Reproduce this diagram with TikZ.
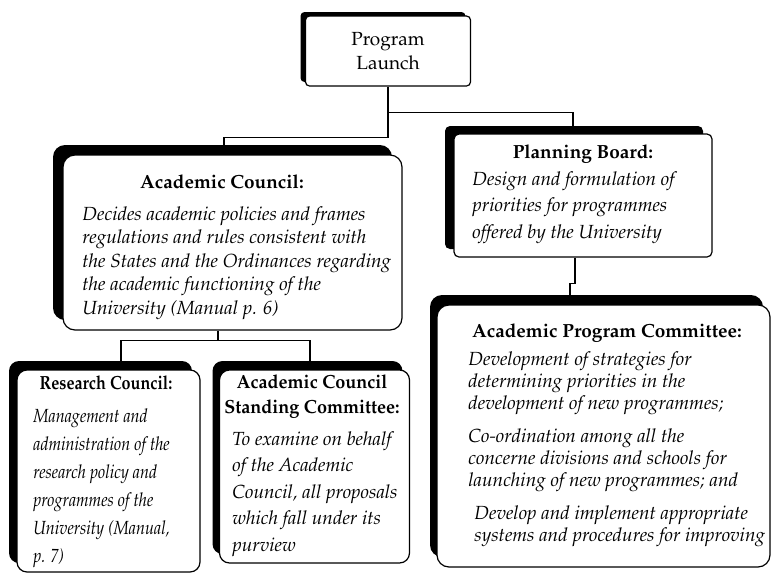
\documentclass[tikz,border=0pt]{standalone}
\usepackage[T1]{fontenc}
\usepackage{mathpazo}
\usepackage{graphicx}
\usetikzlibrary{shadows}

\tikzset{
  box/.style={draw, fill=white, line width=0.6pt, inner sep=0pt},
  ttl/.style={anchor=base, inner sep=0pt, align=center, font=\fontsize{9.5}{12.5}\selectfont\bfseries},
  body/.style={anchor=north west, inner sep=0pt, align=left, font=\fontsize{9.5}{#1}\selectfont\itshape},
  conn/.style={line width=0.6pt}
}

\begin{document}
\begin{tikzpicture}[x=0.5pt, y=-0.5pt]
\useasboundingbox (0,0) rectangle (771,574);
% boxes
\node[box, rounded corners=2pt, minimum width=82.5pt, minimum height=35pt, align=center, font=\fontsize{9.5}{12}\selectfont,
  general shadow={fill=black, shadow xshift=-2.5pt, shadow yshift=2pt}] (prog) at (388,51) {Program\\Launch};
\node[box, rounded corners=6pt, minimum width=169.5pt, minimum height=87.5pt,
  general shadow={fill=black, shadow xshift=-5pt, shadow yshift=5pt}] (acad) at (232.5,242.5) {};
\node[box, rounded corners=2.5pt, minimum width=129pt, minimum height=61.5pt,
  general shadow={fill=black, shadow xshift=-4.5pt, shadow yshift=4pt}] (plan) at (583,195.5) {};
\node[box, rounded corners=6pt, minimum width=166.5pt, minimum height=131pt,
  general shadow={fill=black, shadow xshift=-3.5pt, shadow yshift=5pt}] (apc) at (603.5,436) {};
\node[box, rounded corners=5pt, minimum width=91.5pt, minimum height=101pt,
  general shadow={fill=black, shadow xshift=-4pt, shadow yshift=4.5pt}] (res) at (108.5,471) {};
\node[box, rounded corners=5pt, minimum width=95pt, minimum height=96.5pt,
  general shadow={fill=black, shadow xshift=-3.5pt, shadow yshift=4.5pt}] (stand) at (314.5,466.5) {};

% titles
\node[ttl] (acadttl) at (222,188) {Academic Council:};
\node[ttl] (planttl) at (583,158) {Planning Board:};
\node[ttl] (apcttl) at (607,337) {Academic Program Committee:};
\node[ttl] (resttl) at (106,389) {\scalebox{0.85}[1]{Research Council:}};
\node[ttl, anchor=north] (standttl) at (312,374) {\scalebox{0.95}[1]{Academic Council}\\\scalebox{0.95}[1]{Standing Committee:}};

% texts
\node[body=11.75] (acadtxt) at (82,206) {Decides academic policies and frames\\
regulations and rules consistent with\\
the States and the Ordinances regarding\\
the academic functioning of the\\
University (Manual p. 6)};
\node[body=13.25] (plantxt) at (472,171) {Design and formulation of\\
priorities for programmes\\
offered by the University};
\node[body=11] (apctxt) at (468,351) {Development of strategies for\\
determining priorities in the\\
development of new programmes;\\[5.5pt]
Co-ordination among all the\\
concerne divisions and schools for\\
launching of new programmes; and\\[5.5pt]
\hspace*{3pt}Develop and implement appropriate\\
\hspace*{3pt}systems and procedures for improving};
\node[body=14] (restxt) at (33,402) {\scalebox{0.85}[1]{\begin{tabular}{@{}l@{}}
Management and\\
administration of the\\
research policy and\\
programmes of the\\
University (Manual,\\
p. 7)\end{tabular}}};
\node[body=13.25] (standtxt) at (232,431) {To examine on behalf\\
of the Academic\\
Council, all proposals\\
which fall under its\\
purview};

% connectors
\draw[conn] (prog.south) -- ++(0,51) -| ([xshift=-4.25pt]acad.north);
\draw[conn] (prog.south) ++(0,26) -| ([xshift=-5pt]plan.north);
\draw[conn] ([xshift=-7.25pt]acad.south) -- ++(0,10) -| ([xshift=6.25pt]res.north);
\draw[conn] ([xshift=-7.25pt]acad.south) ++(0,10) -| ([xshift=-2.25pt]stand.north);
\draw[conn] ([xshift=-4pt]plan.south) -- ++(0,26) -| ([xshift=-16.75pt]apc.north);
\end{tikzpicture}
\end{document}
